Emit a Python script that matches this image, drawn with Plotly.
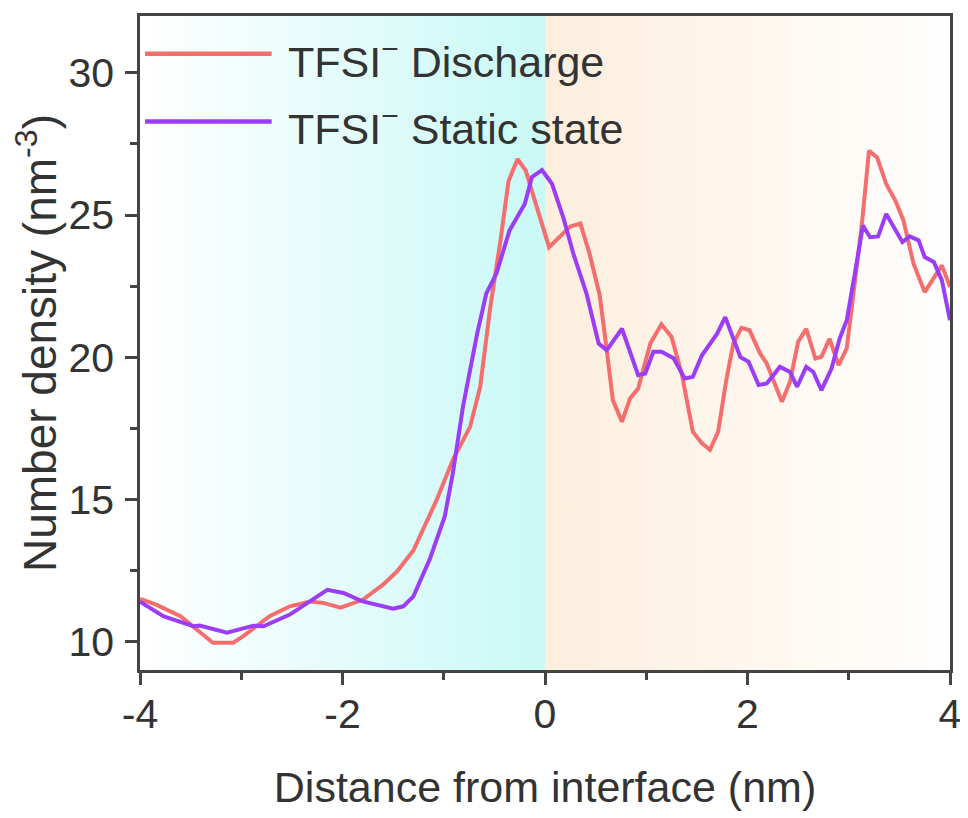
import plotly.graph_objects as go

# ---- data ----
x_discharge = [-4.0, -3.84, -3.6, -3.44, -3.28, -3.08, -2.98, -2.72, -2.52, -2.32, -2.19, -2.02,
               -1.80, -1.60, -1.46, -1.30, -1.17, -1.07, -0.91, -0.74, -0.64, -0.54, -0.44, -0.36,
               -0.27, -0.19, -0.08, 0.04, 0.25, 0.35, 0.44, 0.54, 0.61, 0.67, 0.76, 0.84, 0.92,
               1.04, 1.15, 1.25, 1.35, 1.46, 1.55, 1.63, 1.71, 1.79, 1.86, 1.94, 2.02, 2.12,
               2.19, 2.34, 2.42, 2.50, 2.58, 2.67, 2.73, 2.81, 2.90, 2.98, 3.05, 3.13, 3.20,
               3.28, 3.37, 3.46, 3.54, 3.64, 3.75, 3.84, 3.92, 4.0]
y_discharge = [11.5, 11.3, 10.89, 10.42, 9.96, 9.96, 10.19, 10.89, 11.24, 11.41, 11.36, 11.19,
               11.47, 12.0, 12.47, 13.2, 14.2, 14.98, 16.39, 17.55, 18.96, 21.77, 24.1, 26.2,
               26.97, 26.56, 25.27, 23.87, 24.6, 24.7, 23.64, 22.18, 20.25, 18.49, 17.73, 18.55, 18.9,
               20.48, 21.16, 20.71, 19.43, 17.38, 16.97, 16.74, 17.38, 19.19, 20.48, 21.03, 20.95, 20.16,
               19.78, 18.43, 19.14, 20.54, 21.0, 19.95, 20.01, 20.65, 19.72, 20.31, 22.35, 24.69, 27.26,
               27.03, 26.09, 25.51, 24.81, 23.29, 22.29, 22.76, 23.23, 22.47]

x_static = [-4.0, -3.77, -3.67, -3.47, -3.41, -3.14, -2.88, -2.78, -2.52, -2.35, -2.15, -1.99,
            -1.80, -1.50, -1.40, -1.30, -1.14, -0.99, -0.91, -0.81, -0.67, -0.58, -0.48, -0.35,
            -0.20, -0.13, -0.03, 0.07, 0.18, 0.28, 0.41, 0.53, 0.61, 0.76, 0.84, 0.92, 0.99,
            1.07, 1.15, 1.27, 1.38, 1.46, 1.55, 1.70, 1.78, 1.93, 2.01, 2.11, 2.19, 2.32,
            2.42, 2.49, 2.58, 2.65, 2.73, 2.83, 2.91, 2.98, 3.06, 3.14, 3.21, 3.29, 3.37,
            3.44, 3.53, 3.60, 3.69, 3.75, 3.84, 3.92, 4.0]
y_static = [11.4, 10.89, 10.77, 10.54, 10.56, 10.31, 10.56, 10.54, 10.95, 11.36, 11.82, 11.71,
            11.41, 11.16, 11.24, 11.59, 12.88, 14.4, 15.92, 18.26, 20.83, 22.24, 22.94, 24.46,
            25.39, 26.33, 26.58, 26.09, 24.92, 23.64, 22.24, 20.48, 20.25, 21.0, 20.13, 19.37, 19.43,
            20.19, 20.19, 19.96, 19.25, 19.31, 20.07, 20.83, 21.41, 20.0, 19.84, 19.02, 19.08, 19.66,
            19.48, 18.96, 19.66, 19.48, 18.84, 19.6, 20.65, 21.3, 22.94, 24.63, 24.22, 24.25, 25.04,
            24.63, 24.05, 24.25, 24.11, 23.52, 23.35, 22.7, 21.3]

series_names = ["TFSI<sup>−</sup> Discharge", "TFSI<sup>−</sup> Static state"]
x_ticks = [-4, -2, 0, 2, 4]
y_ticks = [10, 15, 20, 25, 30]
x_range = [-4, 4]
y_range = [9, 32]

RED = "#F46E6E"
PURPLE = "#9B3CF7"
TXT = "#333333"
AX = "#444444"
FONT = "Arial, Liberation Sans, sans-serif"

fig = go.Figure()

# background gradient regions (electrolyte side / electrode side)
fig.add_trace(go.Scatter(
    x=[x_range[0], 0, 0, x_range[0], x_range[0]],
    y=[y_range[0], y_range[0], y_range[1], y_range[1], y_range[0]],
    fill="toself", mode="none", hoverinfo="skip", showlegend=False,
    fillgradient=dict(type="horizontal", colorscale=[[0, "#FFFFFF"], [1, "#C9F9F6"]]),
))
fig.add_trace(go.Scatter(
    x=[0, x_range[1], x_range[1], 0, 0],
    y=[y_range[0], y_range[0], y_range[1], y_range[1], y_range[0]],
    fill="toself", mode="none", hoverinfo="skip", showlegend=False,
    fillgradient=dict(type="horizontal", colorscale=[[0, "#FDEEDD"], [1, "#FFFFFF"]]),
))

fig.add_trace(go.Scatter(x=x_discharge, y=y_discharge, mode="lines", name=series_names[0],
                         line=dict(color=RED, width=4), showlegend=False))
fig.add_trace(go.Scatter(x=x_static, y=y_static, mode="lines", name=series_names[1],
                         line=dict(color=PURPLE, width=4), showlegend=False))

# manual legend (long line samples like the reference)
legend_items = [(series_names[0], RED, 30.67, 30.5), (series_names[1], PURPLE, 28.29, 28.13)]
for name, col, ly, ty in legend_items:
    fig.add_shape(type="line", x0=-3.95, x1=-2.70, y0=ly, y1=ly, xref="x", yref="y",
                  line=dict(color=col, width=4.5))
    fig.add_annotation(x=-2.56, y=ty, xref="x", yref="y", text=name, showarrow=False,
                       xanchor="left", yanchor="middle",
                       font=dict(family=FONT, size=43, color=TXT))

axis_common = dict(showline=True, linecolor=AX, linewidth=2.5, mirror=True,
                   ticks="outside", ticklen=12, tickwidth=2.5, tickcolor=AX,
                   showgrid=False, zeroline=False,
                   tickfont=dict(family=FONT, size=41, color=TXT))

fig.update_xaxes(range=x_range, tickvals=x_ticks, ticktext=[str(v) for v in x_ticks],
                 ticklabelstandoff=-6,
                 minor=dict(dtick=1, ticks="outside", ticklen=7, tickwidth=2.5, tickcolor=AX),
                 title=dict(text="Distance from interface (nm)",
                            font=dict(family=FONT, size=43, color=TXT), standoff=36),
                 **axis_common)
fig.update_yaxes(range=y_range, tickvals=y_ticks, ticklabelstandoff=3,
                 minor=dict(dtick=2.5, ticks="outside", ticklen=7, tickwidth=2.5, tickcolor=AX),
                 title=dict(text="Number density (nm<sup>-3</sup>)",
                            font=dict(family=FONT, size=46, color=TXT), standoff=1),
                 **axis_common)

# the page adds an 8 px body margin, so margins are offset by 8 px
fig.update_layout(
    width=968, height=818,
    margin=dict(l=132, r=26, t=8, b=156, autoexpand=False),
    paper_bgcolor="white", plot_bgcolor="white",
    font=dict(family=FONT, color=TXT),
)

fig.write_html("out.html")
